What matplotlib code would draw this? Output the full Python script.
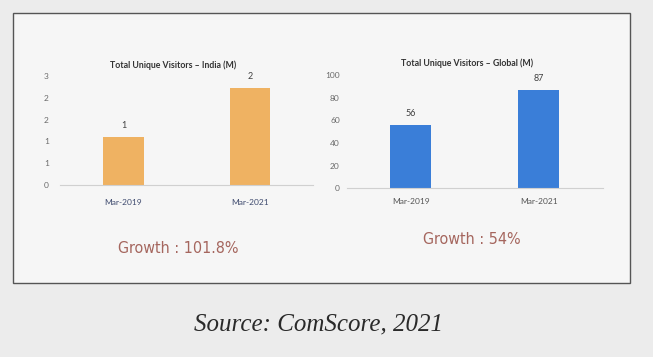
import matplotlib.pyplot as plt
from matplotlib.patches import Rectangle

# data
periods = ['Mar-2019', 'Mar-2021']
india_visitors = [1.32, 2.66]
india_labels = ['1', '2']
india_ticks = [0, 0.6, 1.2, 1.8, 2.4, 3.0]
global_visitors = [56, 87]
global_labels = ['56', '87']
global_ticks = [0, 20, 40, 60, 80, 100]

india_title = 'Total Unique Visitors \u2013 India (M)'
global_title = 'Total Unique Visitors \u2013 Global (M)'
india_growth = 'Growth : 101.8%'
global_growth = 'Growth : 54%'
source = 'Source: ComScore, 2021'

plt.rcParams['font.family'] = ['Lato', 'DejaVu Sans']

fig = plt.figure(figsize=(6.53, 3.57), dpi=100)
fig.patch.set_facecolor('#ececec')

# the framed box on the page
box = Rectangle((0.020, 0.207), 0.945, 0.756, transform=fig.transFigure,
                facecolor='#f6f6f6', edgecolor='#555555', linewidth=1.0, zorder=-5)
fig.patches.append(box)


def bar_panel(rect, values, labels, ticks, color, title, title_xy, lab_color, pad, ypad):
    ax = fig.add_axes(rect)
    ax.set_facecolor('none')
    x = range(len(values))
    bars = ax.bar(x, values, width=0.32, color=color, zorder=2)
    ax.set_xlim(-0.5, 1.5)
    ax.set_ylim(ticks[0], ticks[-1])
    ax.set_yticks(ticks)
    ax.set_yticklabels(['{:.0f}'.format(t) for t in ticks])
    ax.set_xticks(list(x))
    ax.set_xticklabels(periods)
    for s in ['top', 'right', 'left']:
        ax.spines[s].set_visible(False)
    ax.spines['bottom'].set_color('#d0d0d0')
    ax.spines['bottom'].set_linewidth(0.8)
    ax.tick_params(axis='y', length=0, labelsize=6, labelcolor='#6a6a6a', pad=ypad)
    ax.tick_params(axis='x', length=0, labelsize=6, labelcolor=lab_color, pad=pad)
    for b, lab in zip(bars, labels):
        ax.annotate(lab, (b.get_x() + b.get_width() / 2, b.get_height()),
                    xytext=(0, 5), textcoords='offset points', ha='center',
                    va='bottom', fontsize=6.5, color='#404040')
    fig.text(title_xy[0], title_xy[1], title, ha='center', va='center',
             fontsize=6.3, fontweight='bold', color='#333333')
    return ax


bar_panel([0.092, 0.482, 0.388, 0.305], india_visitors, india_labels, india_ticks,
          '#efb262', india_title, (0.265, 0.818), '#3e4a6e', 10, 8)
bar_panel([0.531, 0.473, 0.392, 0.317], global_visitors, global_labels, global_ticks,
          '#3a7ed8', global_title, (0.715, 0.824), '#555555', 7, 5)

fig.text(0.273, 0.305, india_growth, ha='center', va='center', fontsize=11.5,
         color='#a5665e', family=['DejaVu Sans'], stretch='condensed')
fig.text(0.723, 0.328, global_growth, ha='center', va='center', fontsize=11.5,
         color='#a5665e', family=['DejaVu Sans'], stretch='condensed')

fig.text(0.487, 0.090, source, ha='center', va='center', fontsize=18,
         style='italic', color='#2a2a2a', family=['Liberation Serif', 'DejaVu Serif'])

plt.savefig('out.png', dpi=100, facecolor=fig.get_facecolor())
